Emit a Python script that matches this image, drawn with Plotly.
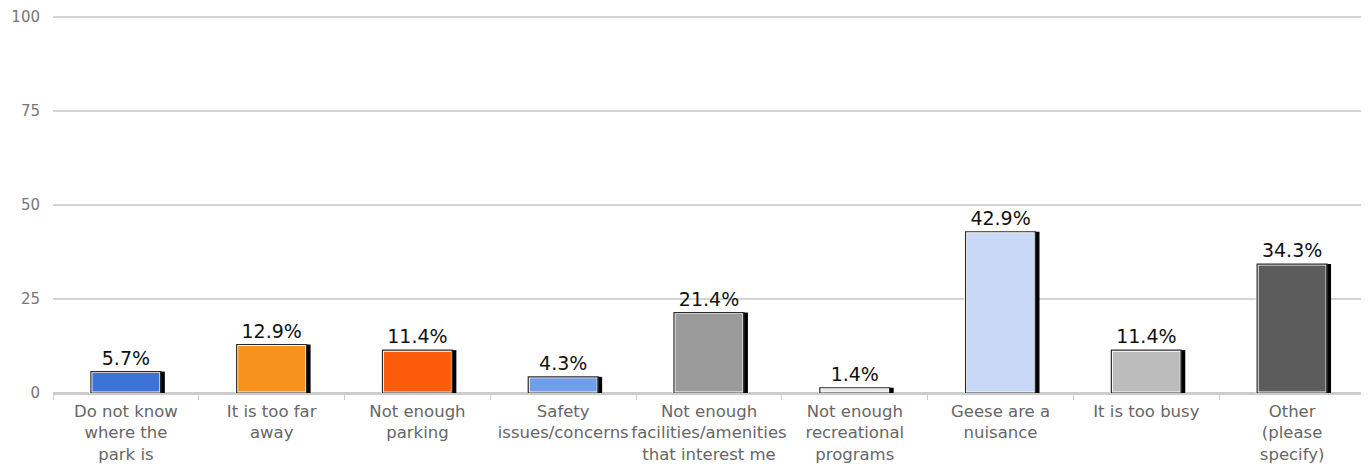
import plotly.graph_objects as go

categories = [
    "Do not know<br>where the<br>park is",
    "It is too far<br>away",
    "Not enough<br>parking",
    "Safety<br>issues/concerns",
    "Not enough<br>facilities/amenities<br>that interest me",
    "Not enough<br>recreational<br>programs",
    "Geese are a<br>nuisance",
    "It is too busy",
    "Other<br>(please<br>specify)",
]
values = [5.7, 12.9, 11.4, 4.3, 21.4, 1.4, 42.9, 11.4, 34.3]
labels = ["5.7%", "12.9%", "11.4%", "4.3%", "21.4%", "1.4%", "42.9%", "11.4%", "34.3%"]
colors = ["#3d73d6", "#f7921e", "#fb5b0b", "#6f9fea", "#9b9b9b",
          "#e6e6e6", "#c8d8f6", "#bcbcbc", "#5c5c5c"]
yticks = [0, 25, 50, 75, 100]

fig = go.Figure()
# fill with white inner border
fig.add_trace(go.Bar(
    x=categories, y=values, width=0.48, offset=-0.24,
    marker=dict(color=colors, line=dict(color="#ffffff", width=3)),
    hoverinfo="skip", showlegend=False,
))
# right-side shadow strip
fig.add_trace(go.Bar(
    x=categories, y=values, width=0.032, offset=0.235,
    marker=dict(color="#000000", line=dict(width=0)),
    hoverinfo="skip", showlegend=False,
))
# outline + labels
fig.add_trace(go.Bar(
    x=categories, y=values, width=0.48, offset=-0.24,
    marker=dict(color="rgba(0,0,0,0)", line=dict(color="#2a2a2a", width=1.2)),
    text=labels, textposition="outside", cliponaxis=False,
    textfont=dict(family="DejaVu Sans", size=19, color="#111111"),
    showlegend=False,
))

fig.update_layout(
    width=1369, height=466,
    margin=dict(l=45, r=12, t=8, b=81, autoexpand=False),
    barmode="overlay",
    plot_bgcolor="white", paper_bgcolor="white",
    font=dict(family="DejaVu Sans", color="#666666"),
)
fig.update_xaxes(
    type="category", tickangle=0, automargin=False,
    tickfont=dict(size=16.5, color="#666666"),
    ticks="outside", tickson="boundaries", ticklen=5, tickcolor="#cccccc",
    showline=True, linecolor="#cccccc", linewidth=2,
    showgrid=False, ticklabelstandoff=2,
)
fig.update_yaxes(
    range=[0, 100.3], tickvals=yticks, ticktext=[str(v) for v in yticks],
    tickfont=dict(size=15, color="#777777"), automargin=False,
    showgrid=True, gridcolor="#d4d4d4", gridwidth=1.5,
    zeroline=True, zerolinecolor="#cccccc", zerolinewidth=2,
    ticklabelstandoff=12,
)

fig.write_html("out.html")
